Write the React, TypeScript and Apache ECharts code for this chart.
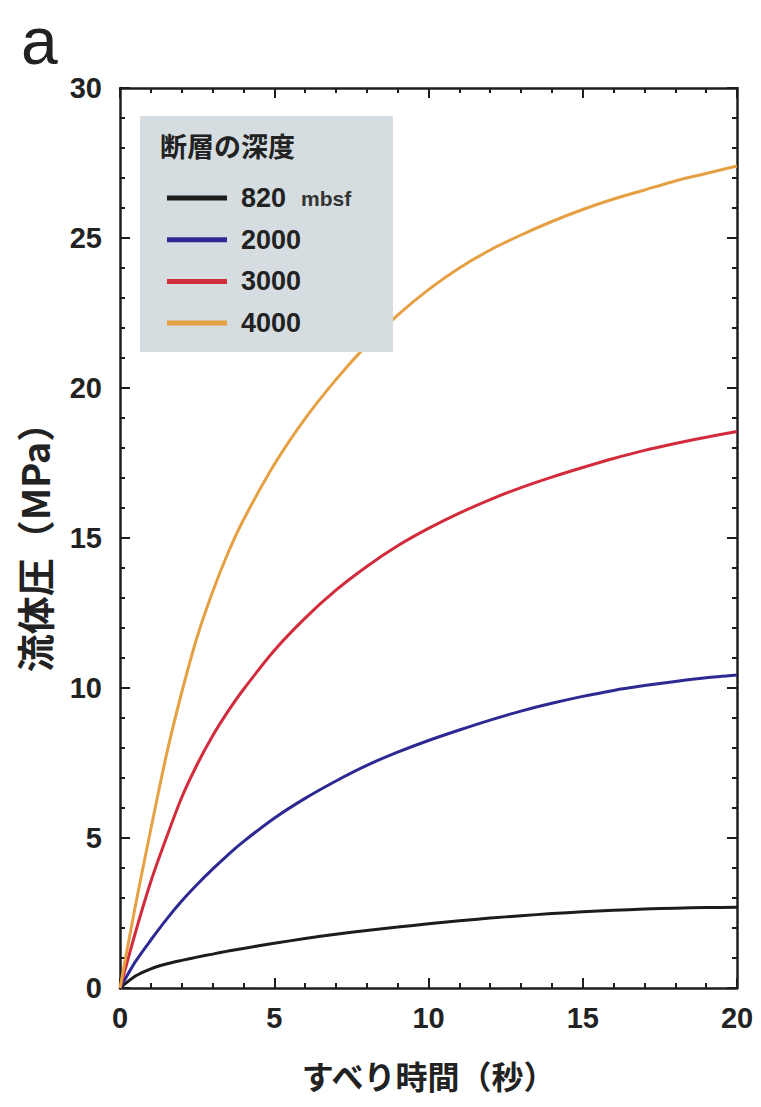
import React, { useEffect, useRef } from "react";
import * as echarts from "echarts";

const times = [0, 0.5, 1, 1.5, 2, 2.5, 3, 3.5, 4, 5, 6, 7, 8, 9, 10, 11, 12, 13, 14, 15, 16, 17, 18, 19, 20];
const p820 = [0, 0.4, 0.64, 0.8, 0.92, 1.03, 1.13, 1.23, 1.32, 1.49, 1.65, 1.79, 1.92, 2.03, 2.14, 2.24, 2.33, 2.41, 2.48, 2.54, 2.59, 2.63, 2.66, 2.68, 2.69];
const p2000 = [0, 0.88, 1.6, 2.28, 2.9, 3.45, 3.96, 4.44, 4.88, 5.66, 6.32, 6.9, 7.42, 7.86, 8.25, 8.6, 8.93, 9.23, 9.49, 9.72, 9.92, 10.08, 10.22, 10.34, 10.43];
const p3000 = [0, 1.85, 3.55, 5.0, 6.35, 7.45, 8.4, 9.22, 9.95, 11.25, 12.33, 13.26, 14.05, 14.74, 15.32, 15.83, 16.28, 16.68, 17.03, 17.35, 17.65, 17.92, 18.15, 18.36, 18.55];
const p4000 = [0, 2.75, 5.3, 7.75, 9.85, 11.7, 13.2, 14.5, 15.6, 17.45, 18.98, 20.28, 21.43, 22.43, 23.28, 24.0, 24.6, 25.1, 25.55, 25.95, 26.3, 26.6, 26.9, 27.15, 27.4];

const seriesNames = ["820", "2000", "3000", "4000"];
const seriesColors = ["#1c1c1c", "#2c2a92", "#d22c3c", "#e6a044"];
const seriesValues = [p820, p2000, p3000, p4000];

const xTicks = { min: 0, max: 20, interval: 5 };
const yTicks = { min: 0, max: 30, interval: 5 };

const legendTitle = "断層の深度";
const xName = "すべり時間（秒）";
const yName = "流体圧（MPa）";
const panelLabel = "a";

const NUM_FONT = "'Liberation Sans Narrow', 'Liberation Sans', Arial, sans-serif";
const CJK_FONT = "'Noto Sans CJK JP', 'Noto Sans', sans-serif";
const AXIS_COLOR = "#1e1e1e";

export default function App() {
  const ref = useRef<HTMLDivElement>(null);

  useEffect(() => {
    if (!ref.current) return;
    const chart = echarts.init(ref.current, undefined, { renderer: "svg" });

    const frameAxis = (extra: any) => ({
      type: "value",
      axisLine: { show: true, onZero: false, lineStyle: { color: AXIS_COLOR, width: 2.5 } },
      axisTick: { show: true, inside: true, length: 10, lineStyle: { color: AXIS_COLOR, width: 2 } },
      minorTick: { show: true, splitNumber: 5, length: 5, lineStyle: { color: AXIS_COLOR, width: 2 } },
      splitLine: { show: false },
      minorSplitLine: { show: false },
      ...extra,
    });

    const option: any = {
      animation: false,
      backgroundColor: "#ffffff",
      grid: { left: 120, right: 24, top: 88, bottom: 119, containLabel: false },
      xAxis: [
        frameAxis({
          position: "bottom",
          ...xTicks,
          name: xName,
          nameLocation: "middle",
          nameGap: 71,
          nameTextStyle: { fontFamily: CJK_FONT, fontSize: 32, fontWeight: "bold", color: "#222" },
          axisLabel: { show: true, margin: 15, fontFamily: NUM_FONT, fontSize: 29, fontWeight: "bold", color: "#222" },
        }),
        frameAxis({
          position: "top",
          ...xTicks,
          axisLabel: { show: false },
        }),
      ],
      yAxis: [
        frameAxis({
          position: "left",
          ...yTicks,
          name: yName,
          nameLocation: "middle",
          nameRotate: 90,
          nameGap: 68,
          nameTextStyle: { fontFamily: CJK_FONT, fontSize: 38, fontWeight: "bold", color: "#222" },
          axisLabel: { show: true, margin: 18, fontFamily: NUM_FONT, fontSize: 29, fontWeight: "bold", color: "#222" },
        }),
        frameAxis({
          position: "right",
          ...yTicks,
          axisLabel: { show: false },
        }),
      ],
      legend: {
        show: true,
        orient: "vertical",
        left: 162,
        top: 178,
        itemWidth: 60,
        itemHeight: 30,
        itemGap: 11.7,
        z: 20,
        icon: "path://M0,0 L60,0 L60,5 L0,5 Z",
        data: seriesNames,
        formatter: (name: string) => (name === "820" ? "820  {u|mbsf}" : name),
        textStyle: {
          fontFamily: NUM_FONT,
          fontSize: 27,
          fontWeight: "bold",
          lineHeight: 30,
          color: "#222",
          padding: [0, 0, 0, 9],
          rich: {
            u: { fontFamily: NUM_FONT, fontSize: 21, lineHeight: 30, color: "#333" },
          },
        },
      },
      graphic: [
        {
          type: "rect",
          left: 140,
          top: 116,
          shape: { width: 253, height: 236 },
          style: { fill: "#d5dde0" },
          z: 10,
        },
        {
          type: "text",
          left: 160,
          top: 132,
          style: { text: legendTitle, fontFamily: CJK_FONT, fontSize: 27, fontWeight: "bold", fill: "#222" },
          z: 21,
        },
        {
          type: "text",
          left: 21,
          top: 8,
          style: { text: panelLabel, fontFamily: "'Liberation Sans', Arial, sans-serif", fontSize: 66, fill: "#222" },
          z: 21,
        },
      ],
      series: seriesNames.map((name, k) => ({
        name,
        type: "line",
        xAxisIndex: 0,
        yAxisIndex: 0,
        showSymbol: false,
        symbol: "none",
        smooth: 0.25,
        color: seriesColors[k],
        lineStyle: { color: seriesColors[k], width: 3 },
        data: times.map((t, i) => [t, seriesValues[k][i]]),
        z: 5,
      })),
    };

    chart.setOption(option);
    return () => chart.dispose();
  }, []);

  return (
    <div
      ref={ref}
      style={{ position: "fixed", left: 0, top: 0, width: 761, height: 1107, background: "#fff" }}
    />
  );
}
